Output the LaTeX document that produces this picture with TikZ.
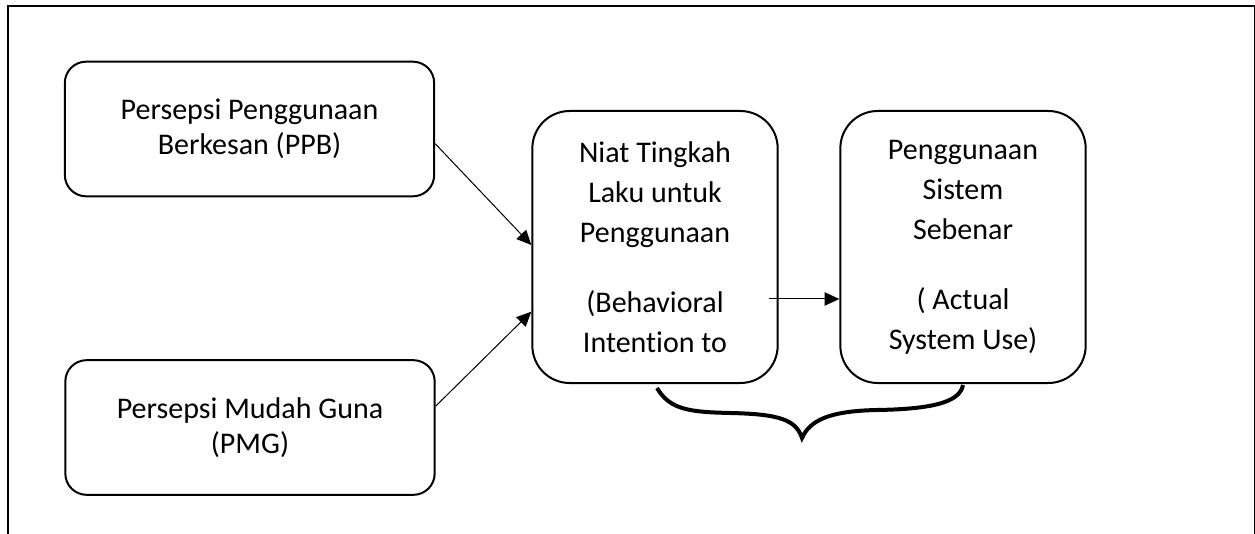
\documentclass[tikz,border=0pt]{standalone}
\usepackage{fontspec}
\setmainfont[Ligatures=NoCommon]{Carlito}
\usetikzlibrary{
    arrows.meta,
    positioning
}

\begin{document}
\begin{tikzpicture}[x=0.75pt, y=-0.75pt,
        box/.style={draw, line width=1.5pt, align=center, inner sep=0pt},
        smallbox/.style={box, rounded corners=16pt, minimum width=277pt, minimum height=101pt,
            font=\fontsize{22.5}{26.25}\selectfont},
        tallbox/.style={box, rounded corners=28pt, minimum width=184pt, minimum height=204pt,
            font=\fontsize{22.5}{30}\selectfont},
        link/.style={-{Triangle[length=11pt, width=10pt]}, line width=0.75pt}]

        \useasboundingbox (0,0) rectangle (1255,534);

        % frame, open at the bottom
        \draw[line width=1.5pt] (8,534) -- (8,6.5) -- (1254.5,6.5) -- (1254.5,534);

        \node[smallbox] (ppb) at (249.5,129) {Persepsi Penggunaan\\Berkesan (PPB)};
        \node[smallbox] (pmg) at (250,427.5) {Persepsi Mudah Guna\\(PMG)};
        \node[tallbox] (niat) at (655,247) {Niat Tingkah\\Laku untuk\\Penggunaan\\[22.5pt](Behavioral\\Intention to};
        \node[tallbox] (guna) at (963,247) {Penggunaan\\Sistem\\Sebenar\\[22.5pt]( Actual\\System Use)};

        \draw[link] ([yshift=-11pt]ppb.east) -- ([yshift=1.5pt]niat.west);
        \draw[link] ([yshift=16pt]pmg.east) -- ([yshift=-48.5pt]niat.west);
        \draw[link] ([xshift=-7.5pt,yshift=-39pt]niat.east) -- ([yshift=-39pt]guna.west);

        % brace under the two boxes
        \draw[line width=3pt] (657,388) .. controls (670,410) and (690,412) .. (730,413)
            .. controls (780,414) and (796,420) .. (802,438)
            .. controls (810,420) and (830,411) .. (877,410)
            .. controls (940,409) and (960,400) .. (963,385);
    \end{tikzpicture}
\end{document}
